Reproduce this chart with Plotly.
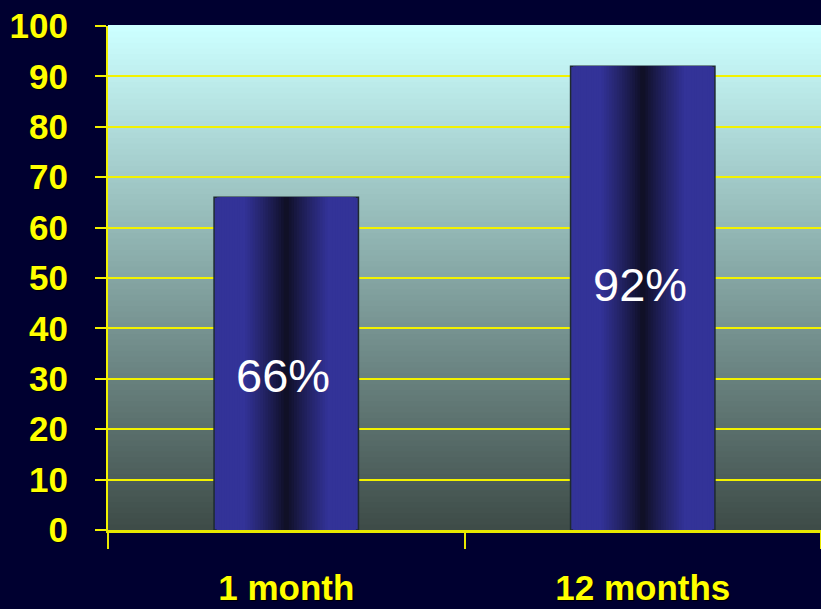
import plotly.graph_objects as go

# ---- data ----
categories = ["1 month", "12 months"]
values = [66, 92]
value_labels = ["66%", "92%"]
y_ticks = list(range(0, 101, 10))

# ---- style ----
BG = "#000030"
YELLOW = "#ffff00"
TICK_FONT = dict(family="Liberation Sans, Arial",
                 size=35, color=YELLOW, weight="bold", shadow="1px 1px 1px #000000")

fig = go.Figure()

# bars drawn as overlaid layers to imitate the horizontal shading
BAR_W = 0.405
N = 28
edge = (51, 51, 152)
center = (14, 14, 34)
for k in range(N, 0, -1):
    d = (k - 0.5) / N  # distance from bar centre (0) to edge (1)
    t = min(d / 0.58, 1.0)
    t = t ** 0.9
    c = tuple(int(round(center[i] + (edge[i] - center[i]) * t)) for i in range(3))
    outer = (k == N)
    fig.add_trace(go.Bar(
        x=categories, y=values, width=BAR_W * k / N,
        marker=dict(color="rgb(%d,%d,%d)" % c,
                    line=dict(color="#1e2a30" if outer else "rgba(0,0,0,0)",
                              width=1.5 if outer else 0)),
        showlegend=False, hoverinfo="skip",
    ))

# value labels inside the bars (placed near the middle of each bar)
for cat, v, lab, off in zip(categories, values, value_labels, [-2.3, 2.8]):
    fig.add_annotation(x=cat, y=v / 2 + off, xshift=-3, text=lab, showarrow=False,
                       font=dict(family="Liberation Sans, Arial", size=47, color="white"))

# vertical gradient background of the plot area
NB = 90
top = (204, 255, 255)
bot = (62, 76, 72)
for i in range(NB):
    t = i / (NB - 1)
    c = tuple(int(round(bot[j] + (top[j] - bot[j]) * t)) for j in range(3))
    fig.add_shape(type="rect", xref="x domain", yref="y domain",
                  x0=0, x1=1, y0=i / NB, y1=(i + 1) / NB + 0.002,
                  fillcolor="rgb(%d,%d,%d)" % c, line=dict(width=0), layer="below")

fig.update_layout(
    width=821, height=609,
    margin=dict(l=108, r=0, t=26, b=79),
    paper_bgcolor=BG, plot_bgcolor=BG,
    barmode="overlay",
    showlegend=False,
    xaxis=dict(
        type="category", range=[-0.5, 1.5],
        showgrid=False, zeroline=False,
        showline=True, linecolor="#e8e800", linewidth=3,
        ticks="outside", tickson="boundaries", ticklen=16, tickwidth=2, tickcolor="#e8e800",
        tickfont=TICK_FONT, ticklabelstandoff=25,
    ),
    yaxis=dict(
        range=[0, 100], tickvals=y_ticks,
        showgrid=True, gridcolor="#f2f200", gridwidth=2,
        zeroline=False,
        showline=True, linecolor="#f2f200", linewidth=2,
        ticks="outside", ticklen=11, tickwidth=2, tickcolor="#f2f200",
        tickfont=TICK_FONT, ticklabelstandoff=20,
    ),
)

fig.write_html("out.html")
